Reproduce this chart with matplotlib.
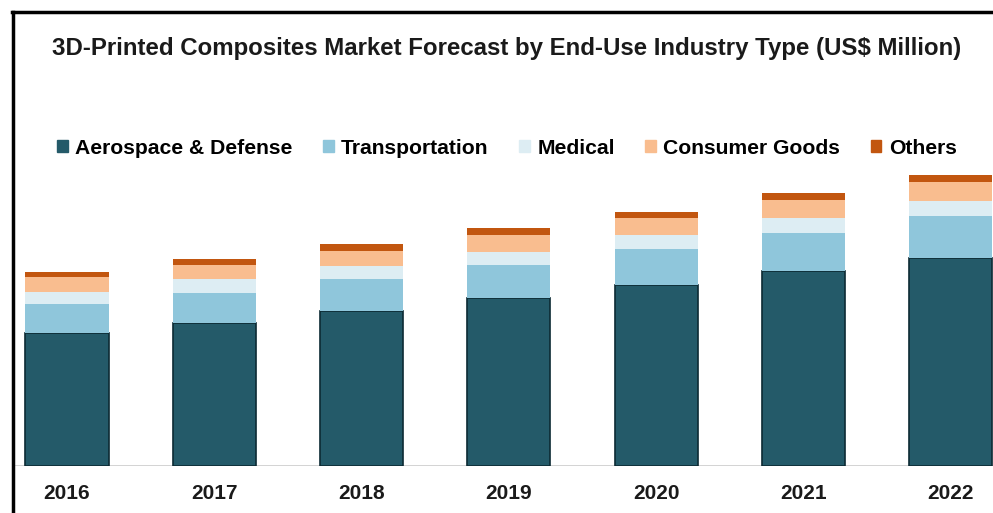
import numpy as np
import matplotlib.pyplot as plt
from matplotlib.patches import Rectangle
from matplotlib.lines import Line2D

plt.rcParams['font.family'] = ['Liberation Sans', 'DejaVu Sans']

years = ['2016', '2017', '2018', '2019', '2020', '2021', '2022']
aerospace = [133, 143, 155, 168, 181, 195, 208]
transportation = [29, 30, 32, 33, 36, 38, 42]
medical = [12, 14, 13, 13, 14, 15, 15]
consumer = [15, 14, 15, 17, 17, 18, 19]
others = [5, 6, 7, 7, 6, 7, 7]

names = ['Aerospace & Defense', 'Transportation', 'Medical', 'Consumer Goods', 'Others']
colors = ['#245a69', '#8fc6db', '#ddedf3', '#f9bd8f', '#c2560f']
series = [aerospace, transportation, medical, consumer, others]

fig = plt.figure(figsize=(9.93, 5.13), dpi=100)
ax = fig.add_axes([14 / 993, 47 / 513, 979 / 993, 306 / 513])

x = np.arange(len(years))
bottom = np.zeros(len(years))
for i, (vals, c) in enumerate(zip(series, colors)):
    if i == 0:
        ax.bar(x, vals, 0.565, bottom=bottom, color=c, edgecolor='#0c2a33', linewidth=1.2)
    else:
        ax.bar(x, vals, 0.565, bottom=bottom, color=c, edgecolor='none')
    bottom += np.array(vals)

ax.set_xlim(-0.36, 6.287)
ax.set_ylim(0, 306)
ax.axhline(0, color='#cccccc', lw=1.2, zorder=0)
for s in ax.spines.values():
    s.set_visible(False)
ax.set_yticks([])
ax.set_xticks(x)
ax.set_xticklabels(years, fontsize=15, fontweight='bold', color='#1a1a1a')
ax.tick_params(axis='x', length=0, pad=13)

fig.text(0.51, 1 - 48 / 513, '3D-Printed Composites Market Forecast by End-Use Industry Type (US$ Million)',
         ha='center', va='center', fontsize=17.3, fontweight='bold', color='#1a1a1a')

handles = [Rectangle((0, 0), 1, 1, color=c) for c in colors]
fig.legend(handles, names, loc='center', bbox_to_anchor=(0.5105, 1 - 148 / 513), ncol=5,
           frameon=False, handlelength=0.5, handleheight=0.5, handletextpad=0.35,
           columnspacing=1.45, prop={'size': 15.2, 'weight': 'bold'})

# outer frame (left and top edges)
fig.add_artist(Line2D([13 / 993, 13 / 993], [0, 1 - 12 / 513], color='black', lw=2.5,
                      transform=fig.transFigure))
fig.add_artist(Line2D([12 / 993, 1], [1 - 12 / 513, 1 - 12 / 513], color='black', lw=2.5,
                      transform=fig.transFigure))

fig.savefig('out.png', dpi=100)
